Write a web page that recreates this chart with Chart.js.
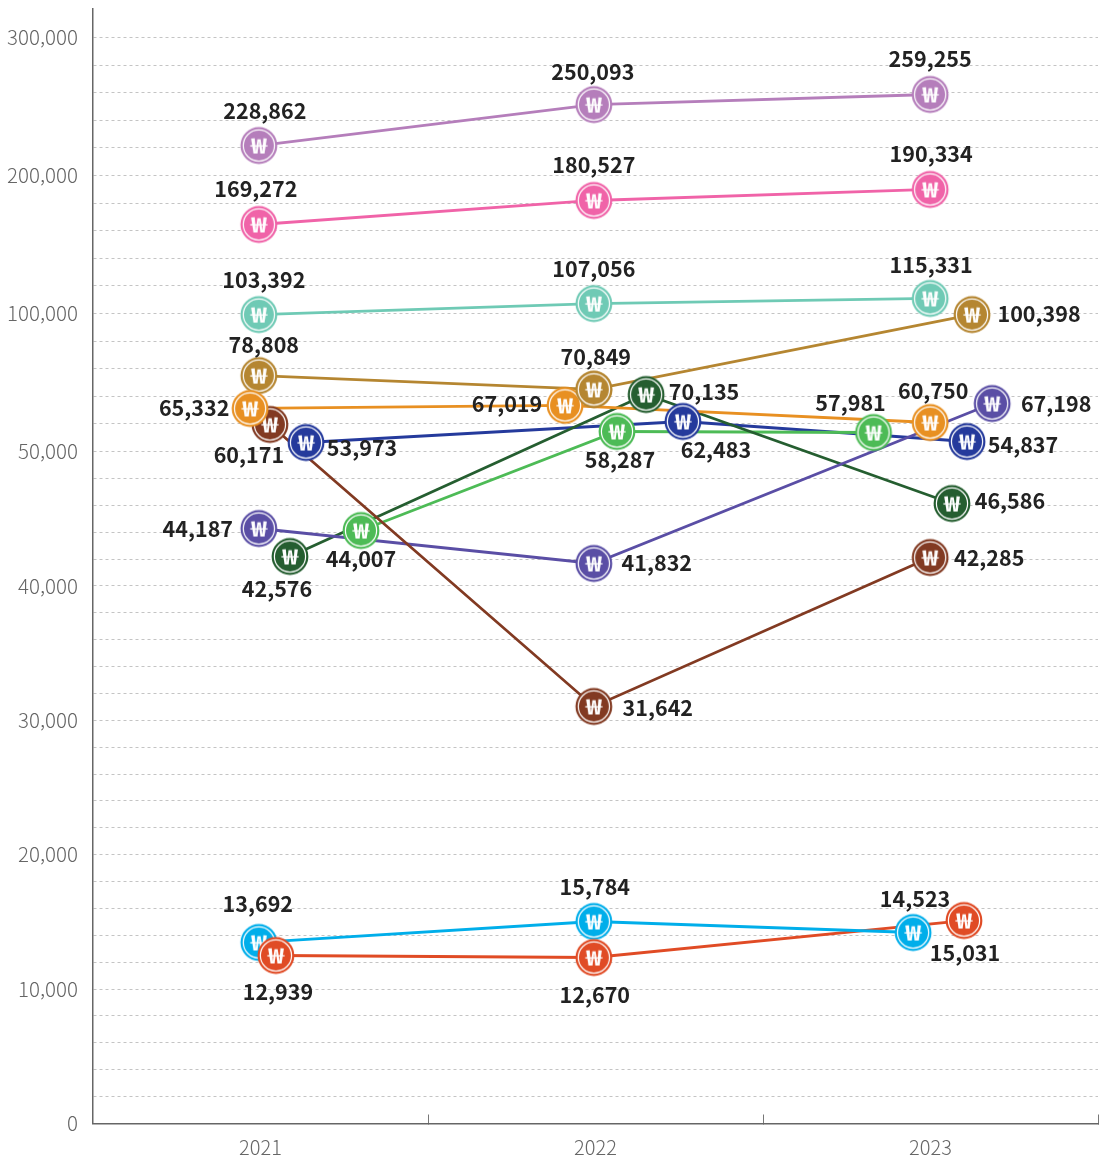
<!DOCTYPE html>
<html lang="ko">
<head>
<meta charset="utf-8">
<title>Chart</title>
<script src="https://cdn.jsdelivr.net/npm/chart.js@4/dist/chart.umd.min.js"></script>
<style>
  html, body { margin: 0; padding: 0; background: #fff; }
  canvas { display: block; }
</style>
</head>
<body>
<canvas id="lineChart" width="1100" height="1160"></canvas>
<script>
const categories = ['2021', '2022', '2023'];
const yTickValues = [0, 10000, 20000, 30000, 40000, 50000, 100000, 200000, 300000];
const yTickLabels = ['0', '10,000', '20,000', '30,000', '40,000', '50,000', '100,000', '200,000', '300,000'];

// plotted heights (they drift a little from the printed numbers)
const purpleValues = [221700, 251400, 258700];
const pinkValues = [164500, 181900, 189900];
const tealValues = [99600, 107200, 110900];
const goldValues = [77500, 72500, 99600];
const orangeValues = [65600, 66700, 60500];
const brownValues = [59800, 31030, 42110];
const navyValues = [53260, 60870, 53620];
const violetValues = [44270, 41670, 67390];
const darkGreenValues = [42190, 70650, 46130];
const greenValues = [44120, 57250, 56880];
const cyanValues = [13470, 15030, 14210];
const redValues = [12500, 12350, 15100];

// printed numbers
const purpleLabels = ['228,862', '250,093', '259,255'];
const pinkLabels = ['169,272', '180,527', '190,334'];
const tealLabels = ['103,392', '107,056', '115,331'];
const goldLabels = ['78,808', '70,849', '100,398'];
const orangeLabels = ['65,332', '67,019', '60,750'];
const brownLabels = ['60,171', '31,642', '42,285'];
const navyLabels = ['53,973', '62,483', '54,837'];
const violetLabels = ['44,187', '41,832', '67,198'];
const darkGreenLabels = ['42,576', '70,135', '46,586'];
const greenLabels = ['44,007', '58,287', '57,981'];
const cyanLabels = ['13,692', '15,784', '14,523'];
const redLabels = ['12,939', '12,670', '15,031'];

// each series: colour, values, labels, x shift in years, label offset in px
// the list order is the order the markers are painted
const seriesList = [
  { color: '#00aeea', values: cyanValues, labels: cyanLabels, shift: [-0.005, -0.005, -0.052], offset: [[-1, -38], [1, -34], [2, -33]] },
  { color: '#e04b25', values: redValues, labels: redLabels, shift: [0.046, -0.005, 0.1], offset: [[2, 37], [1, 38], [1, 33]] },
  { color: '#823a22', values: brownValues, labels: brownLabels, shift: [0.028, -0.005, -0.001], offset: [[-21, 31], [64, 2], [59, 1]] },
  { color: '#b58631', values: goldValues, labels: goldLabels, shift: [-0.005, -0.005, 0.124], offset: [[5, -30], [2, -32], [67, 0]] },
  { color: '#e89022', values: orangeValues, labels: orangeLabels, shift: [-0.031, -0.091, -0.001], offset: [[-56, 0], [-58, -1], [3, -31]] },
  { color: '#5a4ea5', values: violetValues, labels: violetLabels, shift: [-0.005, -0.005, 0.184], offset: [[-61, 1], [63, 0], [64, 1]] },
  { color: '#255e30', values: darkGreenValues, labels: darkGreenLabels, shift: [0.088, 0.151, 0.064], offset: [[-13, 33], [58, -2], [58, -2]] },
  { color: '#4dbb56', values: greenValues, labels: greenLabels, shift: [0.3, 0.064, -0.17], offset: [[0, 29], [3, 29], [-23, -29]] },
  { color: '#253a9c', values: navyValues, labels: navyLabels, shift: [0.136, 0.261, 0.109], offset: [[56, 6], [33, 29], [56, 4]] },
  { color: '#6fcab5', values: tealValues, labels: tealLabels, shift: [-0.005, -0.005, -0.001], offset: [[5, -34], [0, -34], [1, -33]] },
  { color: '#f063a8', values: pinkValues, labels: pinkLabels, shift: [-0.005, -0.005, -0.001], offset: [[-3, -35], [0, -35], [1, -35]] },
  { color: '#b57ebb', values: purpleValues, labels: purpleLabels, shift: [-0.005, -0.005, -0.001], offset: [[6, -34], [-1, -32], [0, -35]] }
];

// the y axis is broken: each stop is a value and its height share of the plot
const axisStops = [0, 50000, 100000, 200000, 300000, 321000];
const axisShares = [0, 672 / 1115, 810 / 1115, 948 / 1115, 1086 / 1115, 1];

const minorTicks = [];
for (let v = 0; v < 50000; v += 2000) minorTicks.push(v);
for (let v = 50000; v < 100000; v += 10000) minorTicks.push(v);
for (let v = 100000; v < 300000; v += 20000) minorTicks.push(v);

class BrokenScale extends Chart.LinearScale {
  buildTicks() {
    this.min = axisStops[0];
    this.max = axisStops[axisStops.length - 1];
    const all = new Set(minorTicks.concat(yTickValues));
    return Array.from(all).sort((a, b) => a - b).map(value => ({ value }));
  }
  getPixelForValue(value) {
    let i = 0;
    while (i < axisStops.length - 2 && value > axisStops[i + 1]) i++;
    const t = (value - axisStops[i]) / (axisStops[i + 1] - axisStops[i]);
    return this.getPixelForDecimal(axisShares[i] + t * (axisShares[i + 1] - axisShares[i]));
  }
}
BrokenScale.id = 'broken';
BrokenScale.defaults = Chart.LinearScale.defaults;
Chart.register(BrokenScale);

// won coin marker
function makeMarker(color) {
  const c = document.createElement('canvas');
  c.width = 40;
  c.height = 40;
  const g = c.getContext('2d');
  g.fillStyle = color;
  g.beginPath();
  g.arc(20, 20, 18.4, 0, Math.PI * 2);
  g.fill();
  g.strokeStyle = '#fff';
  g.lineWidth = 1.2;
  g.beginPath();
  g.arc(20, 20, 15.6, 0, Math.PI * 2);
  g.stroke();
  g.fillStyle = '#fff';
  g.font = '700 21px "Noto Sans CJK KR"';
  g.textAlign = 'center';
  g.textBaseline = 'middle';
  // the glyph in the picture is wider than the font's
  g.translate(20, 20.5);
  g.scale(1.3, 1);
  g.fillText('₩', 0, 0);
  return c;
}

const markerPlugin = {
  id: 'markers',
  afterDatasetsDraw(chart) {
    const ctx = chart.ctx;
    const paint = (s, i) => {
      const pt = chart.getDatasetMeta(s).data[i];
      ctx.drawImage(chart.data.datasets[s].marker, pt.x - 20, pt.y - 20);
    };
    seriesList.forEach((s, n) => s.values.forEach((v, i) => paint(n, i)));
    // at 2022 the gold coin sits over the orange one
    paint(3, 1);

    ctx.save();
    ctx.font = '700 21.5px "Noto Sans CJK KR"';
    ctx.fillStyle = '#222';
    ctx.textAlign = 'center';
    ctx.textBaseline = 'middle';
    seriesList.forEach((s, n) => {
      chart.getDatasetMeta(n).data.forEach((pt, i) => {
        ctx.fillText(s.labels[i], pt.x + s.offset[i][0], pt.y + s.offset[i][1] - 1);
      });
    });
    ctx.restore();
  }
};

new Chart(document.getElementById('lineChart'), {
  type: 'line',
  plugins: [markerPlugin],
  data: {
    datasets: seriesList.map(s => ({
      data: s.values.map((y, i) => ({ x: Number(categories[i]) + s.shift[i], y })),
      borderColor: s.color,
      borderWidth: 2.8,
      pointRadius: 0,
      tension: 0,
      marker: makeMarker(s.color)
    }))
  },
  options: {
    responsive: false,
    animation: false,
    layout: { padding: { top: 8.5, right: 2, left: 0, bottom: 0 } },
    plugins: { legend: { display: false }, tooltip: { enabled: false } },
    scales: {
      x: {
        type: 'linear',
        min: 2020.5,
        max: 2023.5,
        afterBuildTicks(scale) {
          const vals = [];
          for (let v = 2020.5; v <= 2023.5; v += 0.5) vals.push({ value: v });
          scale.ticks = vals;
        },
        afterFit(scale) {
          scale.height = 36.5;
          scale.paddingLeft = 0;
          scale.paddingRight = 0;
        },
        border: { color: '#666', width: 1.5 },
        grid: {
          drawOnChartArea: false,
          tickLength: -9,
          tickWidth: 1,
          tickColor: ctx => (Number.isInteger(ctx.tick.value) || ctx.tick.value === 2020.5 ? 'transparent' : '#777')
        },
        ticks: {
          autoSkip: false,
          maxRotation: 0,
          padding: 21,
          color: '#666',
          font: { family: '"Noto Sans CJK KR"', size: 20, weight: 300 },
          callback: v => (categories.includes(String(v)) ? String(v) : '')
        }
      },
      y: {
        type: 'broken',
        afterFit(scale) {
          scale.width = 93;
          scale.paddingTop = 0;
          scale.paddingBottom = 0;
        },
        border: { color: '#666', width: 1.5, dash: [3, 3] },
        grid: {
          drawTicks: false,
          color: '#c4c4c4',
          lineWidth: 1
        },
        ticks: {
          autoSkip: false,
          padding: 15,
          color: '#666',
          font: { family: '"Noto Sans CJK KR"', size: 20.5, weight: 300 },
          callback: v => {
            const i = yTickValues.indexOf(v);
            return i >= 0 ? yTickLabels[i] : '';
          }
        }
      }
    }
  }
});
</script>
</body>
</html>
